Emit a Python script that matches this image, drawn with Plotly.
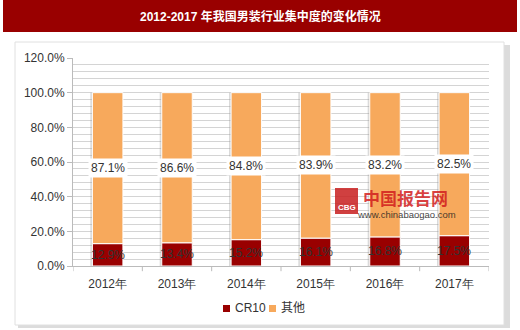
import plotly.graph_objects as go

years = ["2012年", "2013年", "2014年", "2015年", "2016年", "2017年"]
cr10 = [12.9, 13.4, 15.2, 16.1, 16.8, 17.5]
others = [87.1, 86.6, 84.8, 83.9, 83.2, 82.5]
series_names = ["CR10", "其他"]
series_colors = ["#990000", "#F7A95C"]
y_ticks = [0, 20, 40, 60, 80, 100, 120]

L, R, T, B = 73, 31, 58, 64
PW, PH = 520 - L - R, 330 - T - B


def px(x):
    return (x - L) / PW


def py(y):
    return (330 - B - y) / PH


FONT = "Liberation Sans, Arial"
fig = go.Figure()

fig.add_trace(go.Bar(x=years, y=[100] * 6, width=0.47, offset=-0.25,
                     marker=dict(color="rgba(150,150,150,0.35)", line=dict(width=0)),
                     hoverinfo="skip", showlegend=False))
fig.add_trace(go.Bar(name=series_names[0], x=years, y=cr10, width=0.44, offset=-0.22,
                     marker=dict(color=series_colors[0], line=dict(color="white", width=1)),
                     base=0, hoverinfo="skip", showlegend=False))
fig.add_trace(go.Bar(name=series_names[1], x=years, y=others, width=0.44, offset=-0.22,
                     marker=dict(color=series_colors[1], line=dict(color="white", width=1)),
                     base=cr10, hoverinfo="skip", showlegend=False))

fig.update_layout(barmode="overlay")

for i, (c, o) in enumerate(zip(cr10, others)):
    fig.add_annotation(x=years[i], y=c + o / 2, text=f"{o:.1f}%", showarrow=False,
                       bgcolor="white", borderpad=2, xanchor="center", yanchor="middle",
                       font=dict(size=12, color="#333333", family=FONT))
    fig.add_annotation(x=years[i], y=c / 2, text=f"{c:.1f}%", showarrow=False,
                       xanchor="center", yanchor="middle",
                       font=dict(size=12, color="#333333", family=FONT))

shapes = []
shapes.append(dict(type="rect", xref="paper", yref="paper",
                   x0=px(18), x1=px(510), y0=py(328), y1=py(45),
                   fillcolor="#dcdcdc", line=dict(width=0), layer="below"))
shapes.append(dict(type="rect", xref="paper", yref="paper",
                   x0=px(15), x1=px(504), y0=py(325), y1=py(42),
                   fillcolor="white", line=dict(color="#e0e0e0", width=1), layer="below"))
shapes.append(dict(type="rect", xref="paper", yref="paper",
                   x0=px(3), x1=px(517), y0=py(32), y1=py(0),
                   fillcolor="#990000", line=dict(width=0), layer="below"))
shapes.append(dict(type="rect", xref="paper", yref="paper",
                   x0=px(335), x1=px(358), y0=py(214), y1=py(188),
                   fillcolor="rgba(200,30,30,0.85)", line=dict(width=0), layer="above"))

# manual legend
leg_x = [223, 269]
for name, col, lx in zip(series_names, series_colors, leg_x):
    shapes.append(dict(type="rect", xref="paper", yref="paper",
                       x0=px(lx), x1=px(lx + 7), y0=py(312), y1=py(305),
                       fillcolor=col, line=dict(width=0)))
    fig.add_annotation(xref="paper", yref="paper", x=px(lx + 10), y=py(308), text=name,
                       xanchor="left", yanchor="middle", showarrow=False,
                       font=dict(size=12, color="#333333", family="Liberation Sans, Noto Sans CJK SC"))
fig.update_layout(shapes=shapes)

fig.add_annotation(xref="paper", yref="paper", x=px(260), y=py(16),
                   text="<b>2012-2017 年我国男装行业集中度的变化情况</b>",
                   xanchor="center", yanchor="middle",
                   showarrow=False, font=dict(color="white", size=12, family="Liberation Sans, Noto Sans CJK SC"))

fig.add_annotation(xref="paper", yref="paper", x=px(346.5), y=py(207), text="<b>CBG</b>",
                   xanchor="center", yanchor="middle",
                   showarrow=False, font=dict(color="white", size=8, family=FONT))
fig.add_annotation(xref="paper", yref="paper", x=px(405), y=py(197), text="<b>中国报告网</b>",
                   xanchor="center", yanchor="middle",
                   showarrow=False, font=dict(color="rgba(210,30,30,0.85)", size=17, family="Noto Sans CJK SC"))
fig.add_annotation(xref="paper", yref="paper", x=px(406), y=py(214), text="www.chinabaogao.com",
                   xanchor="center", yanchor="middle",
                   showarrow=False, font=dict(color="rgba(30,30,30,0.85)", size=9.5, family=FONT))

fig.update_xaxes(showline=True, linecolor="#bbbbbb", ticks="", ticklabelstandoff=7,
                 tickfont=dict(size=12, color="#333333", family=FONT),
                 range=[-0.5, 5.5], showgrid=False)
fig.update_yaxes(range=[0, 120], tickvals=y_ticks, ticktext=[f"{v:.1f}%" for v in y_ticks],
                 showline=True, linecolor="#bbbbbb", ticks="outside", ticklen=5, tickcolor="#bbbbbb",
                 tickfont=dict(size=12, color="#333333", family=FONT),
                 showgrid=True, gridcolor="#d4d4d4", gridwidth=1,
                 minor=dict(dtick=4, showgrid=True, gridcolor="#d4d4d4", gridwidth=1),
                 zeroline=False)

for k in range(7):
    fig.add_shape(type="line", xref="x", yref="paper", x0=k - 0.5, x1=k - 0.5, y0=0, y1=-0.025,
                  line=dict(color="#bbbbbb", width=1))

fig.update_layout(width=520, height=330, margin=dict(l=L, r=R, t=T, b=B, autoexpand=False),
                  paper_bgcolor="white", plot_bgcolor="white", showlegend=False,
                  bargap=0.5)

fig.write_html("out.html")
